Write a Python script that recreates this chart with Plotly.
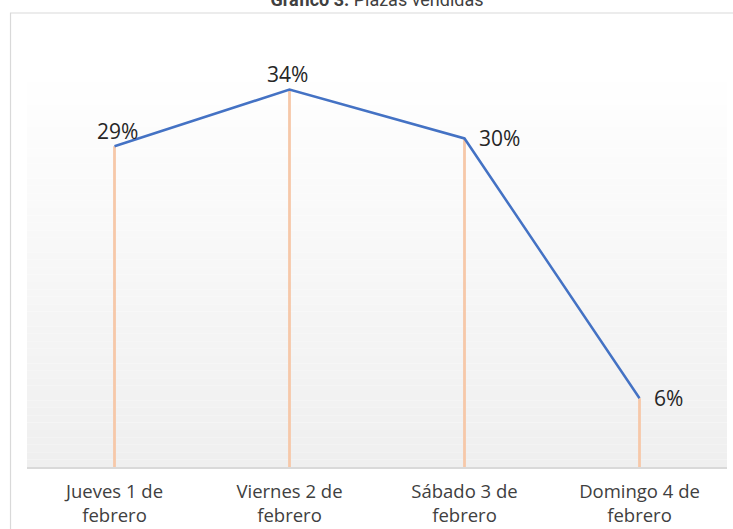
import plotly.graph_objects as go

categories = ["Jueves 1 de<br>febrero", "Viernes 2 de<br>febrero", "Sábado 3 de<br>febrero", "Domingo 4 de<br>febrero"]
values = [28.9, 34.0, 29.6, 6.2]
labels = ["29%", "34%", "30%", "6%"]
label_anchor = ["center", "center", "left", "left"]
label_xshift = [3, -2, 12, 12]
label_yshift = [15, 16, 0, 0]

W, H = 733, 529
ml, mr, mt, mb = 26.5, 5.5, 23, 62
pw, ph = W - ml - mr, H - mt - mb

fig = go.Figure()

# drop lines
dx, dy = [], []
for c, v in zip(categories, values):
    dx += [c, c, None]
    dy += [0, v, None]
fig.add_trace(go.Scatter(x=dx, y=dy, mode="lines",
                         line=dict(color="#f6c8a9", width=2.8),
                         hoverinfo="skip", showlegend=False))

fig.add_trace(go.Scatter(x=categories, y=values, mode="lines",
                         line=dict(color="#4472c4", width=2.5),
                         showlegend=False, cliponaxis=False))

annotations = []
for c, v, t, a, xs, ys in zip(categories, values, labels, label_anchor, label_xshift, label_yshift):
    annotations.append(dict(x=c, y=v, xref="x", yref="y", text=t, showarrow=False,
                            xanchor=a, yanchor="middle", xshift=xs, yshift=ys,
                            font=dict(family="Open Sans", size=21, color="#262626")))

shapes = []
# gradient background bands
n = 60
for i in range(n):
    y0 = i / n
    y1 = (i + 1) / n
    t = 1 - (y0 + y1) / 2  # 0 at top, 1 at bottom
    g = int(round(255 - 16 * max(0.0, (t - 0.1) / 0.9)))
    col = f"rgb({g},{g},{g})"
    shapes.append(dict(type="rect", xref="paper", yref="paper", x0=0, x1=1, y0=y0, y1=y1,
                       fillcolor=col, line=dict(width=0), layer="below"))
# outer border
shapes.append(dict(type="rect", xref="paper", yref="paper",
                   x0=(10 - ml) / pw, x1=1.2, y0=-0.5, y1=1 + (mt - 13) / ph,
                   line=dict(color="#d9d9d9", width=1.2), fillcolor="rgba(0,0,0,0)", layer="below"))

fig.update_layout(
    width=W, height=H,
    margin=dict(l=ml, r=mr, t=mt, b=mb, autoexpand=False),
    paper_bgcolor="white", plot_bgcolor="rgba(0,0,0,0)",
    shapes=shapes, annotations=annotations,
    title=dict(text="<b>Gráfico 3.</b> Plazas vendidas", x=377 / W, xanchor="center",
               xref="container",
               y=1, yref="container", yanchor="middle", pad=dict(t=0, b=0),
               font=dict(family="Roboto", size=18, color="#404040"), automargin=False),
    xaxis=dict(type="category", showgrid=False, zeroline=False, showline=True,
               linecolor="#d9d9d9", linewidth=1.5, ticks="outside", ticklen=7,
               tickcolor="rgba(0,0,0,0)", automargin=False,
               tickfont=dict(family="Open Sans", size=18.5, color="#404040"),
               range=[-0.5, 3.5]),
    yaxis=dict(range=[0, 40], visible=False, showgrid=False, automargin=False),
)

fig.write_html("out.html", config={"displayModeBar": False},
               post_script="document.body.style.margin='0';document.body.style.overflow='hidden';")
